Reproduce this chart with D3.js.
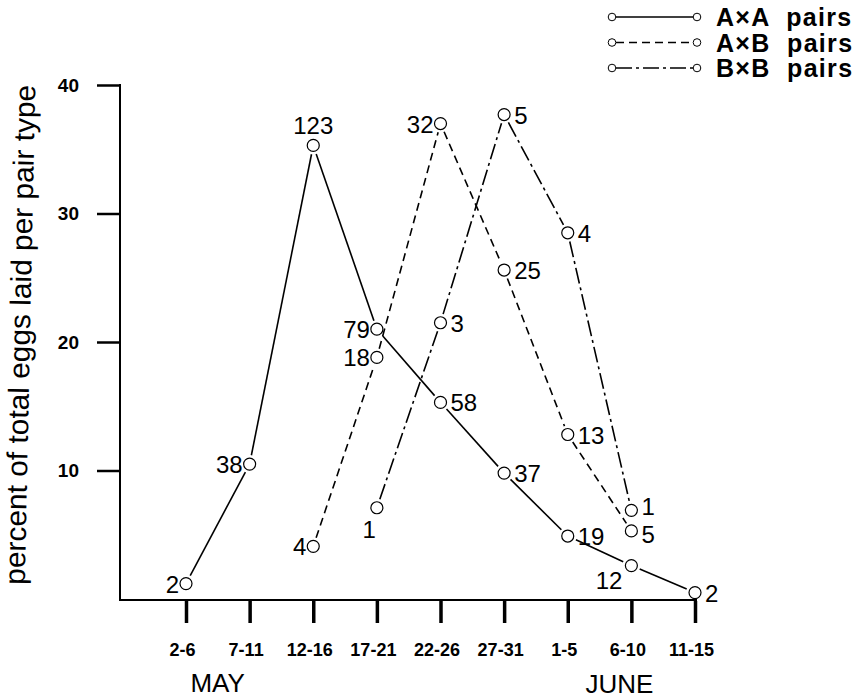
<!DOCTYPE html>
<html><head><meta charset="utf-8">
<script src="https://cdn.jsdelivr.net/npm/d3@7/dist/d3.min.js"></script>
<style>body{margin:0;background:#fff}svg{display:block}text{font-family:"Liberation Sans",Arial,Helvetica,sans-serif}</style>
</head><body><svg id="c" width="867" height="699"></svg>
<script>
const periods = ["2-6","7-11","12-16","17-21","22-26","27-31","1-5","6-10","11-15"];
const yTicks = [10,20,30,40];
const months = ["MAY","JUNE"];
const monthAt = ["7-11","6-10"];

// A×A pairs
const aaPeriods = ["2-6","7-11","12-16","17-21","22-26","27-31","1-5","6-10","11-15"];
const aaValues  = [1.2, 10.5, 35.3, 21.0, 15.3, 9.8, 4.9, 2.6, 0.5];
const aaCounts  = ["2","38","123","79","58","37","19","12","2"];
const aaLabelPos = ["l","l","t","l","r","r","r","bl","r"];

// A×B pairs
const abPeriods = ["12-16","17-21","22-26","27-31","1-5","6-10"];
const abValues  = [4.1, 18.8, 37.0, 25.6, 12.8, 5.3];
const abCounts  = ["4","18","32","25","13","5"];
const abLabelPos = ["l","l","l","r","r","rd"];

// B×B pairs
const bbPeriods = ["17-21","22-26","27-31","1-5","6-10"];
const bbValues  = [7.1, 21.5, 37.7, 28.5, 6.9];
const bbCounts  = ["1","3","5","4","1"];
const bbLabelPos = ["b","r","r","r","ru"];

const seriesNames = ["A\u00d7A  pairs","A\u00d7B  pairs","B\u00d7B  pairs"];
const dashes = [null, "8,5", "16,4,3,4"];

const svg = d3.select("#c");
const x = d3.scalePoint().domain(periods).range([186, 695]);
const y = d3.scaleLinear().domain([0, 40]).range([599, 85]);
const FONT = "'Liberation Sans',Arial,sans-serif";

// Y axis
const yAxis = svg.append("g").attr("transform","translate(120,0)")
  .call(d3.axisLeft(y).tickValues(yTicks).tickSize(23).tickPadding(18).tickSizeOuter(0));
yAxis.select(".domain").remove();
yAxis.selectAll(".tick line").attr("stroke","#000").attr("stroke-width",2.5);
yAxis.selectAll(".tick text").style("font-size","19px").style("font-weight","bold")
  .style("font-family",FONT).attr("fill","#000");
svg.append("line").attr("x1",120).attr("x2",120).attr("y1",y(40)-1).attr("y2",y(0)+1).attr("stroke","#000").attr("stroke-width",2);

// X axis
const xAxis = svg.append("g").attr("transform","translate(0,601)")
  .call(d3.axisBottom(x).tickSize(22).tickPadding(20).tickSizeOuter(0));
xAxis.select(".domain").remove();
xAxis.selectAll(".tick line").attr("stroke","#000").attr("stroke-width",3.5);
xAxis.selectAll(".tick text").style("font-size","18px").style("font-weight","bold")
  .style("font-family",FONT).attr("fill","#000").attr("dx",-4);
svg.append("line").attr("x1",119).attr("x2",x("11-15")+2).attr("y1",y(0)+1).attr("y2",y(0)+1).attr("stroke","#000").attr("stroke-width",2);

// months
svg.selectAll("text.month").data(months).enter().append("text").attr("class","month")
  .attr("x", (d,i)=> x(monthAt[i]) + (i===0 ? -32 : -12)).attr("y", (d,i)=> i===0 ? 692 : 693)
  .attr("text-anchor","middle").attr("font-size",26).text(d=>d);

// y label
svg.append("text").attr("transform","translate(30,335) rotate(-88.8)")
  .attr("text-anchor","middle").attr("font-size",29)
  .attr("textLength",500).attr("lengthAdjust","spacingAndGlyphs")
  .text("percent of total eggs laid per pair type");

const R = 6;
function drawSeries(ps, vs, counts, lpos, dash){
  const pts = ps.map((p,i)=>({x:x(p), y:y(vs[i]), c:counts[i], lp:lpos[i]}));
  const g = svg.append("g");
  for(let i=0;i<pts.length-1;i++){
    const a=pts[i], b=pts[i+1];
    const dx=b.x-a.x, dy=b.y-a.y, L=Math.hypot(dx,dy), g0=R+3;
    g.append("line")
      .attr("x1",a.x+dx/L*g0).attr("y1",a.y+dy/L*g0)
      .attr("x2",b.x-dx/L*g0).attr("y2",b.y-dy/L*g0)
      .attr("stroke","#000").attr("stroke-width",1.6)
      .attr("stroke-dasharray",dash);
  }
  g.selectAll("circle").data(pts).enter().append("circle")
    .attr("cx",d=>d.x).attr("cy",d=>d.y).attr("r",R)
    .attr("fill","#fff").attr("stroke","#000").attr("stroke-width",1.2);
  const right = d => d.lp==="r"||d.lp==="ru"||d.lp==="rd";
  g.selectAll("text").data(pts).enter().append("text")
    .attr("font-size",24)
    .attr("x",d=> d.lp==="l"? d.x-R-1 : right(d)? d.x+R+4 : d.lp==="t"? d.x : d.lp==="b"? d.x-1 : d.x-9)
    .attr("y",d=> d.lp==="t"? d.y-11 : d.lp==="b"? d.y+30 : d.lp==="bl"? d.y+23 :
                 d.lp==="ru"? d.y+5 : d.lp==="rd"? d.y+12 : d.y+9)
    .attr("text-anchor",d=> d.lp==="l"||d.lp==="bl"||d.lp==="b" ? "end" : d.lp==="t" ? "middle" : "start")
    .text(d=>d.c);
}
drawSeries(aaPeriods, aaValues, aaCounts, aaLabelPos, dashes[0]);
drawSeries(abPeriods, abValues, abCounts, abLabelPos, dashes[1]);
drawSeries(bbPeriods, bbValues, bbCounts, bbLabelPos, dashes[2]);

// legend
const leg = svg.append("g");
seriesNames.forEach((name,i)=>{
  const ly = 17 + i*25.5;
  leg.append("line").attr("x1",616).attr("x2",693).attr("y1",ly).attr("y2",ly)
    .attr("stroke","#000").attr("stroke-width",1.4).attr("stroke-dasharray",dashes[i]);
  [612,697].forEach(cx=> leg.append("circle").attr("cx",cx).attr("cy",ly).attr("r",3.8)
    .attr("fill","#fff").attr("stroke","#000").attr("stroke-width",1));
  leg.append("text").attr("x",716).attr("y",ly+9).attr("font-size",25).attr("font-weight","bold")
    .attr("letter-spacing",1.3)
    .attr("xml:space","preserve").style("white-space","pre").text(name);
});
</script></body></html>
